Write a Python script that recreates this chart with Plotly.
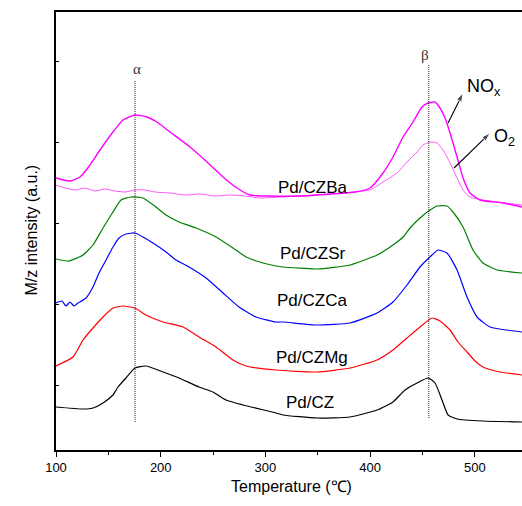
import plotly.graph_objects as go

# ---------------- data (temperature in °C, intensity in a.u., offset stacked) ----------------
cz_T = [100, 125.8, 135.3, 144.9, 154.4, 159.2, 166.8, 175.4, 185.9, 202.2, 217.5, 236.6, 249.9,
        262.4, 278.6, 310.1, 316.8, 349.2, 380.8, 406.6, 421.8, 433.3, 444.8, 455.3, 462.0, 468.6,
        474.4, 483.0, 507.8, 545]
cz_I = [43, 41, 42, 47, 55, 63, 72, 82, 84, 78, 72, 63, 58,
        50, 45, 37, 35, 32, 33, 40, 48, 60, 67, 72, 67, 50,
        35, 31, 29, 28]

czmg_T = [100, 116.2, 125.8, 135.3, 144.9, 154.4, 164.0, 175.4, 185.9, 202.2, 221.3, 236.6, 252.8,
          269.0, 281.5, 310.1, 349.2, 380.8, 406.6, 421.8, 435.2, 447.6, 459.1, 466.7, 476.3, 483.9,
          492.5, 500.2, 507.8, 524.1, 545]
czmg_I = [84, 93, 110, 122, 133, 142, 144, 142, 135, 128, 123, 113, 103,
          90, 84, 80, 78, 82, 90, 100, 112, 123, 132, 129, 120, 108,
          98, 89, 83, 78, 75]

czca_T = [100, 105.7, 109.5, 113.4, 117.2, 121.0, 128.7, 135.3, 141.1, 147.8, 154.4, 160.2, 166.8,
          175.4, 183.1, 192.6, 205.1, 214.6, 227.0, 243.3, 259.5, 274.8, 291.0, 310.1, 316.8, 349.2,
          380.8, 406.6, 421.8, 435.2, 447.6, 459.1, 464.8, 473.4, 483.0, 492.5, 502.1, 514.5, 545]
czca_I = [147, 149, 144, 148, 144, 147, 152, 163, 177, 190, 203, 212, 216,
          217, 213, 207, 198, 190, 183, 172, 157, 143, 133, 128, 128, 125,
          127, 137, 148, 165, 183, 195, 200, 197, 180, 153, 133, 123, 118]

czsr_T = [100, 112.4, 125.8, 135.3, 144.9, 154.4, 162.1, 171.6, 183.1, 195.5, 205.1, 217.5, 233.7,
          252.8, 269.0, 281.5, 297.7, 310.1, 316.8, 349.2, 380.8, 406.6, 421.8, 431.4, 438.1, 447.6,
          457.2, 463.9, 473.4, 479.1, 488.7, 498.2, 507.8, 521.2, 545]
czsr_I = [191, 189, 195, 205, 222, 238, 250, 253, 252, 243, 235, 228, 222,
          213, 202, 193, 187, 184, 183, 181, 185, 195, 205, 213, 222, 232,
          240, 244, 244, 238, 223, 200, 187, 180, 177]

czba_nox_T = [100, 106.7, 113.4, 122.9, 132.5, 142.0, 154.4, 164.0, 175.4, 186.9, 196.4, 208.9, 228.0,
              244.2, 259.5, 272.8, 285.2, 304.4, 333.0, 361.7, 385.5, 399.9, 412.3, 421.8, 431.4, 440.9,
              449.5, 455.3, 461.9, 466.7, 471.5, 476.3, 483.0, 488.7, 495.4, 504.9, 526.9, 545]
czba_nox_I = [272, 270, 269, 273, 285, 300, 318, 330, 335, 333, 328, 318, 303,
              288, 273, 262, 255, 254, 254, 256, 258, 262, 277, 293, 313, 328,
              343, 347, 348, 342, 332, 317, 293, 272, 257, 250, 247, 243]

czba_o2_T = [100, 108.6, 118.1, 127.7, 137.2, 146.8, 156.3, 165.9, 175.4, 185.0, 194.5, 208.9, 223.2,
             237.5, 251.8, 266.2, 280.5, 294.8, 313.9, 333.0, 361.7, 385.5, 399.9, 412.3, 425.7, 435.2,
             444.8, 450.5, 457.2, 463.9, 469.6, 476.3, 483.0, 488.7, 495.4, 507.8, 545]
czba_o2_I = [265, 262, 260, 262, 259, 261, 259, 258, 260, 260, 258, 257, 255,
             256, 254, 255, 254, 252, 253, 254, 256, 258, 260, 268, 277, 288,
             298, 305, 308, 307, 300, 287, 272, 260, 253, 250, 245]

sample_labels = ["Pd/CZBa", "Pd/CZSr", "Pd/CZCa", "Pd/CZMg", "Pd/CZ"]
label_T = [345, 345, 344.5, 344.5, 342.5]
label_I = [263, 197, 150, 93, 48]

peak_names = ["\u03b1", "\u03b2"]
peak_T = [175.5, 456]
peak_line_lo = [28, 32]
peak_line_hi = [370, 385]
peak_label_T = [177.5, 452.5]
peak_label_I = [381, 395]

gas_names = ["NO<sub>x</sub>", "O<sub>2</sub>"]
gas_label_T = [490.6, 516.4]
gas_label_I = [363, 313]
arrow_tail_T = [474.4, 480.1]
arrow_tail_I = [327, 282]
arrow_head_T = [488.7, 514.5]
arrow_head_I = [357, 317]

x_ticks = [100, 200, 300, 400, 500]
y_ticks = [65, 146, 227, 308, 389]

FONT = "Liberation Sans, Arial, sans-serif"

fig = go.Figure()

series = [
    (cz_T, cz_I, "#000000", 1.2),
    (czmg_T, czmg_I, "#FF0000", 1.2),
    (czca_T, czca_I, "#0000FF", 1.2),
    (czsr_T, czsr_I, "#008000", 1.2),
    (czba_o2_T, czba_o2_I, "#FF44FF", 0.9),
    (czba_nox_T, czba_nox_I, "#FF00FF", 1.4),
]
for T, I, c, w in series:
    fig.add_trace(go.Scatter(x=T, y=I, mode="lines",
                             line=dict(color=c, width=w, shape="spline", smoothing=0.5),
                             showlegend=False, hoverinfo="skip"))

# arrows (line + arrow marker at head)
for t0, i0, t1, i1 in zip(arrow_tail_T, arrow_tail_I, arrow_head_T, arrow_head_I):
    fig.add_trace(go.Scatter(x=[t0, t1], y=[i0, i1], mode="lines+markers",
                             line=dict(color="black", width=1.1),
                             marker=dict(symbol="arrow", angleref="previous", size=[0, 9],
                                         color="black"),
                             showlegend=False, hoverinfo="skip"))

# dotted peak lines
for t, lo, hi in zip(peak_T, peak_line_lo, peak_line_hi):
    fig.add_shape(type="line", x0=t, x1=t, y0=lo, y1=hi, xref="x", yref="y",
                  line=dict(color="#222222", width=1, dash="1px,1px"))

annotations = []
for name, t, i in zip(sample_labels, label_T, label_I):
    annotations.append(dict(x=t, y=i, text=name, showarrow=False, xref="x", yref="y",
                            font=dict(family=FONT, size=17, color="black")))
for name, t, i in zip(peak_names, peak_label_T, peak_label_I):
    annotations.append(dict(x=t, y=i, text=name, showarrow=False, xref="x", yref="y",
                            font=dict(family="Liberation Serif, serif", size=15, color="#333333")))
for name, t, i in zip(gas_names, gas_label_T, gas_label_I):
    annotations.append(dict(x=t, y=i, text=name, showarrow=False, xref="x", yref="y",
                            xanchor="left", font=dict(family=FONT, size=18, color="black")))

# axis titles
annotations.append(dict(x=(20 - 56) / 466, y=(450 - 230) / 438, xref="paper", yref="paper",
                        text="M/z intensity (a.u.)", textangle=-90, showarrow=False,
                        font=dict(family=FONT, size=16, color="black")))
annotations.append(dict(x=(291 - 56) / 466, y=(450 - 497) / 438, xref="paper", yref="paper",
                        text="Temperature (\u2103)", showarrow=False,
                        font=dict(family=FONT, size=16, color="black")))

fig.update_layout(
    width=522, height=506,
    margin=dict(l=56, r=0, t=12, b=56),
    paper_bgcolor="white", plot_bgcolor="white",
    annotations=annotations,
    xaxis=dict(range=[100, 545], tickvals=x_ticks, ticks="outside", ticklen=5, tickwidth=1.2,
               tickcolor="black", showline=True, linecolor="black", linewidth=1.5, mirror=True,
               showgrid=False, zeroline=False,
               tickfont=dict(family=FONT, size=13, color="black"),
               minor=dict(dtick=50, tick0=150, ticks="outside", ticklen=3, tickcolor="black",
                          tickwidth=1.2, showgrid=False)),
    yaxis=dict(range=[0, 438], tickvals=y_ticks, ticks="inside", ticklen=3, tickwidth=1.2,
               tickcolor="black", showticklabels=False, showline=True, linecolor="black",
               linewidth=1.5, mirror=False, showgrid=False, zeroline=False),
)

fig.write_html("out.html", config={"displayModeBar": False},
               post_script="document.body.style.margin='0';document.body.style.overflow='hidden';")
